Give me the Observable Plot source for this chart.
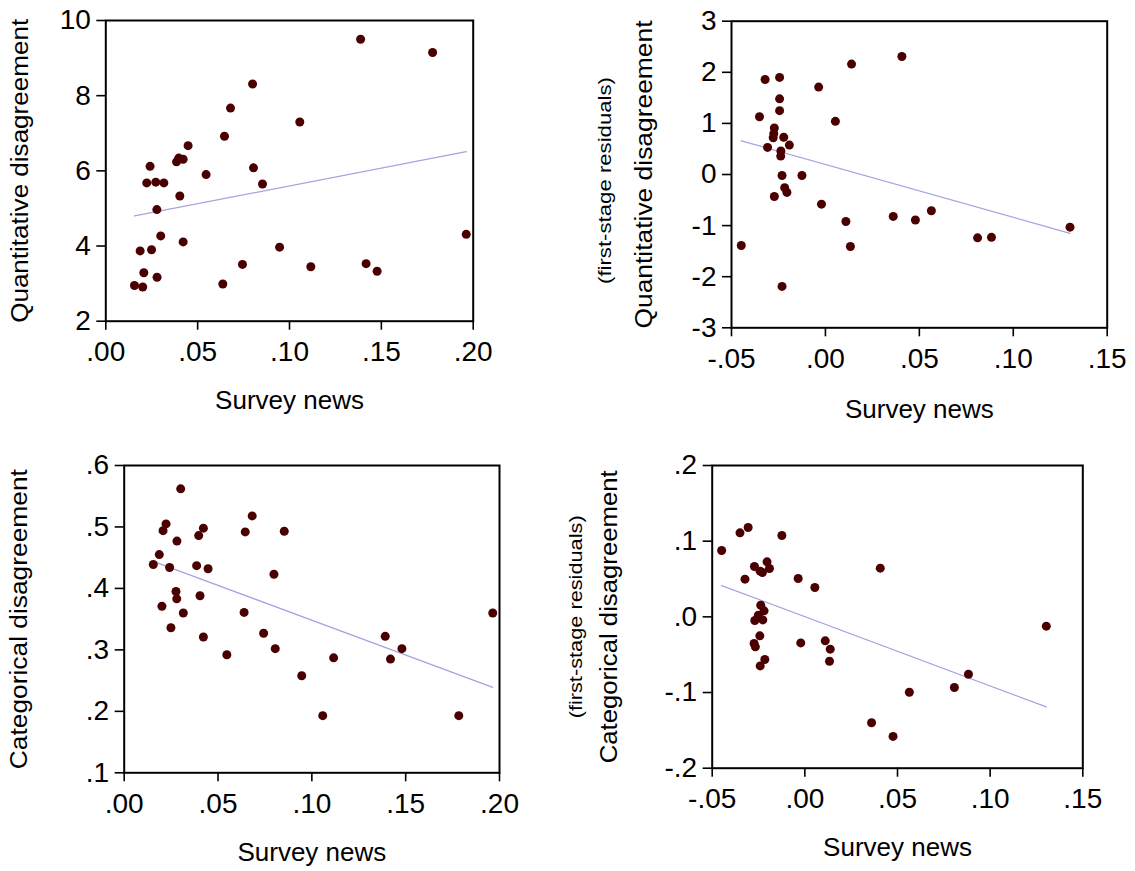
<!DOCTYPE html>
<html>
<head>
<meta charset="utf-8">
<script src="https://cdn.jsdelivr.net/npm/d3@7"></script>
<script src="https://cdn.jsdelivr.net/npm/@observablehq/plot@0.6"></script>
<style>
  html, body { margin: 0; padding: 0; background: #fff; }
  #wrap { position: relative; width: 1135px; height: 871px; background: #fff; }
  .panel { position: absolute; }
  .panel svg { overflow: visible; display: block; }
</style>
</head>
<body>
<div id="wrap">
  <div class="panel" id="p1" style="left:0px;top:0px"></div>
  <div class="panel" id="p2" style="left:560px;top:0px"></div>
  <div class="panel" id="p3" style="left:0px;top:440px"></div>
  <div class="panel" id="p4" style="left:560px;top:440px"></div>
</div>
<script>
// ---------- Data ----------
// Panel 1: Quantitative disagreement vs Survey news
const p1X = [0.0156,0.0201,0.0207,0.0187,0.0249,0.0279,0.0299,0.0278,0.0223,0.0272,0.0316,0.0241,0.0385,0.0397,0.0421,0.0448,0.0403,0.0421,0.0546,0.0637,0.0646,0.0679,0.0744,0.0799,0.0804,0.0853,0.0946,0.1056,0.1116,0.1387,0.1417,0.1477,0.1779,0.1962];
const p1Y = [2.95,2.91,3.29,3.87,3.90,3.17,4.27,4.97,5.68,5.70,5.68,6.12,6.24,6.34,6.31,6.67,5.33,4.11,5.90,2.99,6.92,7.67,3.51,8.31,6.08,5.65,3.97,7.30,3.45,9.50,3.53,3.33,9.15,4.31];
const p1FitX = [0.0156, 0.1962];
const p1FitY = [4.80, 6.51];

// Panel 2: Quantitative disagreement (first-stage residuals) vs Survey news
const p2X = [-0.0448,-0.0351,-0.0321,-0.0308,-0.0272,-0.0272,-0.0275,-0.0278,-0.0244,-0.0244,-0.0244,-0.0222,-0.0192,-0.0237,-0.0238,-0.0231,-0.0125,-0.0217,-0.0205,-0.0021,-0.0231,-0.0036,0.0053,0.0139,0.0407,0.0109,0.0133,0.0361,0.0479,0.0564,0.0810,0.0884,0.1302];
const p2Y = [-1.39,1.13,1.86,0.53,-0.43,0.91,0.80,0.72,1.90,1.48,1.25,0.73,0.575,0.46,0.36,-0.02,-0.02,-0.26,-0.35,-0.58,-2.19,1.71,1.04,2.16,2.31,-0.92,-1.41,-0.82,-0.89,-0.71,-1.24,-1.23,-1.03];
const p2FitX = [-0.0448, 0.1302];
const p2FitY = [0.66, -1.15];

// Panel 3: Categorical disagreement vs Survey news
const p3X = [0.0155,0.0187,0.0201,0.0207,0.0223,0.0242,0.0249,0.0281,0.0276,0.0280,0.0301,0.0315,0.0386,0.0397,0.0404,0.0422,0.0422,0.0447,0.0547,0.0639,0.0645,0.0682,0.0743,0.0798,0.0805,0.0853,0.0946,0.1058,0.1116,0.1391,0.1419,0.1480,0.1783,0.1964];
const p3Y = [0.439,0.455,0.371,0.494,0.505,0.434,0.336,0.477,0.395,0.383,0.562,0.360,0.437,0.486,0.388,0.498,0.321,0.432,0.292,0.361,0.492,0.518,0.327,0.423,0.302,0.493,0.258,0.193,0.287,0.322,0.285,0.302,0.193,0.360];
const p3FitX = [0.0155, 0.1964];
const p3FitY = [0.444, 0.239];

// Panel 4: Categorical disagreement (first-stage residuals) vs Survey news
const p4X = [-0.0449,-0.0350,-0.0306,-0.0323,-0.0124,-0.0272,-0.0204,-0.0191,-0.0241,-0.0229,-0.0036,0.0054,-0.0238,-0.0220,-0.0251,-0.0270,-0.0227,-0.0243,-0.0274,-0.0267,-0.0216,-0.0241,-0.0022,0.0110,0.0137,0.0133,0.0407,0.0360,0.0476,0.0564,0.0807,0.0883,0.1303];
const p4Y = [0.0877,0.111,0.118,0.0498,0.1075,0.0665,0.0727,0.0639,0.0604,0.0586,0.0507,0.0388,0.0154,0.0079,0.0022,-0.0048,-0.0040,-0.0251,-0.0352,-0.0396,-0.0564,-0.0648,-0.0344,-0.0317,-0.0427,-0.0586,0.0643,-0.140,-0.158,-0.0996,-0.0934,-0.0758,-0.0123];
const p4FitX = [-0.0449, 0.1303];
const p4FitY = [0.0414, -0.119];

// Tick values
const xTicksA = [0, 0.05, 0.10, 0.15, 0.20];
const xTicksB = [-0.05, 0, 0.05, 0.10, 0.15];
const p1YTicks = [2, 4, 6, 8, 10];
const p2YTicks = [-3, -2, -1, 0, 1, 2, 3];
const p3YTicks = [0.1, 0.2, 0.3, 0.4, 0.5, 0.6];
const p4YTicks = [-0.2, -0.1, 0, 0.1, 0.2];

// Labels
const xTitle = "Survey news";
const quantTitle = "Quantitative disagreement";
const catTitle = "Categorical disagreement";
const residTitle = "(first-stage residuals)";

// ---------- Drawing ----------
const FONT = "'Liberation Sans', Arial, Helvetica, sans-serif";
const fmt = n => d => (d < 0 ? "-" : "") + Math.abs(d).toFixed(n).replace(/^0(?=\.)/, "");
const zip = (xs, ys) => xs.map((x, i) => ({x, y: ys[i]}));

function makePanel(o) {
  const marks = [
    Plot.frame({stroke: "black", strokeWidth: 2}),
    Plot.axisX({ticks: o.xTicks, tickFormat: fmt(2), tickSize: 9, tickPadding: 11, fontSize: 28, strokeWidth: 1.6, label: null}),
    Plot.axisY({ticks: o.yTicks, tickFormat: fmt(o.yDigits), tickSize: 9, tickPadding: 6, fontSize: 28, strokeWidth: 1.6, label: null}),
    Plot.line(zip(o.fitX, o.fitY), {x: "x", y: "y", stroke: "#a4a4e0", strokeWidth: 1.3}),
    Plot.dot(zip(o.xs, o.ys), {x: "x", y: "y", r: 4.5, fill: "#4a0000"}),
    Plot.text([xTitle], {frameAnchor: "bottom", lineAnchor: "middle", textAnchor: "middle", dy: o.xLabelDy, fontSize: 26, fill: "black"}),
    Plot.text([o.yLabel], {frameAnchor: "left", lineAnchor: "middle", textAnchor: "middle", dx: o.yLabelDx, rotate: -90, fontSize: 23, fill: "black"})
  ];
  if (o.ySub) {
    marks.push(Plot.text([o.ySub], {frameAnchor: "left", lineAnchor: "middle", textAnchor: "middle", dx: o.ySubDx, dy: o.ySubDy, rotate: -90, fontSize: 19, fill: "black"}));
  }
  const svg = Plot.plot({
    width: o.width, height: o.height,
    marginLeft: o.ml, marginRight: o.mr, marginTop: o.mt, marginBottom: o.mb,
    style: {fontFamily: FONT, fontSize: "28px", color: "black", background: "white", overflow: "visible"},
    x: {domain: o.xDomain},
    y: {domain: o.yDomain},
    marks
  });
  const s = d3.select(svg);
  s.selectAll("text").filter(function() { return this.textContent === o.yLabel; })
    .attr("textLength", o.yLabelLen).attr("lengthAdjust", "spacingAndGlyphs");
  if (o.ySub) {
    s.selectAll("text").filter(function() { return this.textContent === o.ySub; })
      .attr("textLength", o.ySubLen).attr("lengthAdjust", "spacingAndGlyphs");
  }
  document.getElementById(o.id).appendChild(svg);
}

makePanel({id: "p1", xs: p1X, ys: p1Y, fitX: p1FitX, fitY: p1FitY,
  xDomain: [0, 0.2], yDomain: [2, 10], xTicks: xTicksA, yTicks: p1YTicks, yDigits: 0,
  width: 480, height: 420, ml: 105.3, mr: 7.3, mt: 20, mb: 99.3,
  yLabel: quantTitle, yLabelDx: -85, yLabelLen: 304, xLabelDy: 79});

makePanel({id: "p2", xs: p2X, ys: p2Y, fitX: p2FitX, fitY: p2FitY,
  xDomain: [-0.05, 0.15], yDomain: [-3, 3], xTicks: xTicksB, yTicks: p2YTicks, yDigits: 0,
  width: 575, height: 430, ml: 171, mr: 28.3, mt: 20.7, mb: 102.7,
  yLabel: quantTitle, yLabelDx: -87, yLabelLen: 308,
  ySub: residTitle, ySubDx: -127, ySubDy: 6, ySubLen: 207, xLabelDy: 82});

makePanel({id: "p3", xs: p3X, ys: p3Y, fitX: p3FitX, fitY: p3FitY,
  xDomain: [0, 0.2], yDomain: [0.1, 0.6], xTicks: xTicksA, yTicks: p3YTicks, yDigits: 1,
  width: 510, height: 431, ml: 123.7, mr: 11, mt: 25, mb: 98.7,
  yLabel: catTitle, yLabelDx: -104.4, yLabelLen: 300, xLabelDy: 80});

makePanel({id: "p4", xs: p4X, ys: p4Y, fitX: p4FitX, fitY: p4FitY,
  xDomain: [-0.05, 0.15], yDomain: [-0.2, 0.2], xTicks: xTicksB, yTicks: p4YTicks, yDigits: 1,
  width: 575, height: 431, ml: 151.7, mr: 52.7, mt: 25, mb: 103.3,
  yLabel: catTitle, yLabelDx: -102.7, yLabelLen: 293,
  ySub: residTitle, ySubDx: -136, ySubDy: 0, ySubLen: 203, xLabelDy: 79});
</script>
</body>
</html>
